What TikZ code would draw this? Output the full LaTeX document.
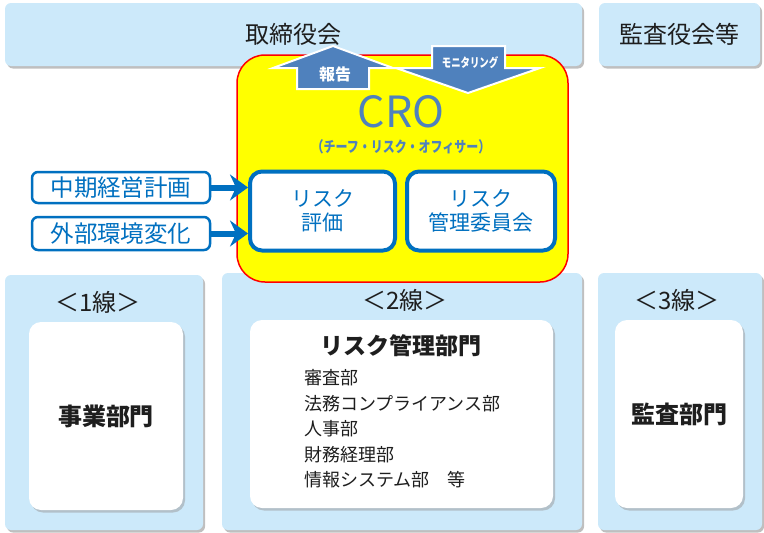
\documentclass[tikz,border=0pt]{standalone}
\usepackage{fontspec}
\setmainfont{Noto Sans CJK JP}
\usetikzlibrary{arrows.meta,shadows}
\definecolor{paneblue}{RGB}{204,233,250}
\definecolor{riskblue}{RGB}{0,112,192}
\definecolor{steelblue}{RGB}{79,129,189}
\definecolor{textgray}{RGB}{30,30,30}
\definecolor{croyellow}{RGB}{255,255,0}
\definecolor{crored}{RGB}{255,0,0}
\begin{document}
\begin{tikzpicture}[x=1pt, y=-1pt,
    every node/.style={text=textgray, inner sep=0pt},
    pane/.style={fill=paneblue, rounded corners=6pt, drop shadow={shadow xshift=2pt, shadow yshift=-2.5pt, fill=black!50}},
    card/.style={fill=white, rounded corners=12pt, drop shadow={shadow xshift=2pt, shadow yshift=-2.5pt, fill=black!40}},
    riskbox/.style={draw=riskblue, line width=4pt, fill=white, rounded corners=12pt, text=riskblue, align=center, font=\fontsize{21}{24}\selectfont},
    inputbox/.style={draw=riskblue, line width=2.5pt, fill=white, rounded corners=6pt, text=riskblue, font=\fontsize{23.5}{26}\selectfont},
    feed/.style={draw=riskblue, line width=6pt, -{Stealth[length=18pt, width=26pt, inset=6pt]}},
    blockarrow/.style={fill=steelblue, draw=white, line width=2pt},
    big/.style={font=\fontsize{24}{28}\selectfont}]
    \useasboundingbox (0,0) rectangle (764,533);

    % Board on top
    \node[pane, big, minimum width=577pt, minimum height=63pt] (board) at (293.5,34.5) {取締役会};
    \node[pane, big, minimum width=161pt, minimum height=63pt] (auditboard) at (679.5,34.5) {監査役会等};

    % Three lines of defence
    \node[pane, minimum width=198pt, minimum height=255pt] (line1) at (104,402.5) {};
    \node[pane, minimum width=360pt, minimum height=257pt] (line2) at (402,401.5) {};
    \node[pane, minimum width=164pt, minimum height=257pt] (line3) at (680,401.5) {};

    % CRO area
    \node[draw=crored, line width=1.5pt, fill=croyellow, rounded corners=28pt, minimum width=331pt, minimum height=227pt] (crobox) at (402.5,168.5) {};

    % Report / monitoring arrows
    \draw[blockarrow] (333,46) -- (393,68) -- (369,68) -- (369,89) -- (297,89) -- (297,68) -- (273,68) -- cycle;
    \node[text=white, font=\bfseries\fontsize{16}{18}\selectfont] (report) at (335,74) {報告};
    \draw[blockarrow] (432,46) -- (505,46) -- (505,68) -- (540,68) -- (468,93) -- (396,68) -- (432,68) -- cycle;
    \node[text=white, font=\bfseries\fontsize{12.5}{14}\selectfont] (monitor) at (470,63) {\scalebox{0.75}[1]{モニタリング}};

    \node[text=steelblue, font=\fontsize{43}{46}\selectfont] (cro) at (401,112) {CRO};
    \node[text=steelblue, font=\bfseries\fontsize{15}{17}\selectfont] (crofull) at (401,147) {\scalebox{0.8}[1]{（チーフ・リスク・オフィサー）}};

    \node[riskbox, minimum width=145pt, minimum height=79pt] (evaluation) at (322.5,211) {リスク\\評価};
    \node[riskbox, minimum width=148pt, minimum height=79pt] (committee) at (481,211) {リスク\\管理委員会};

    % Inputs
    \node[inputbox, minimum width=178pt, minimum height=31pt] (midplan) at (121,187.5) {中期経営計画};
    \node[inputbox, minimum width=178pt, minimum height=33pt] (environment) at (121,233.5) {外部環境変化};
    \draw[feed] (midplan.east) -- (evaluation.west |- midplan.east);
    \draw[feed] (environment.east) -- (evaluation.west |- environment.east);

    % Line labels and departments
    \node[big] (label1) at (98,302) {＜1線＞};
    \node[big] (label2) at (405,300) {＜2線＞};
    \node[big] (label3) at (677,300) {＜3線＞};

    \node[card, minimum width=154pt, minimum height=188pt] (business) at (106,416) {};
    \node[card, minimum width=303pt, minimum height=188pt] (riskdept) at (401.5,414) {};
    \node[card, minimum width=128pt, minimum height=188pt] (auditdept) at (679,414) {};

    \node[font=\bfseries\fontsize{24}{28}\selectfont] at (business) {事業部門};
    \node[font=\bfseries\fontsize{24}{28}\selectfont] at (auditdept) {監査部門};
    \node[font=\bfseries\fontsize{23}{26}\selectfont] (riskhead) at (401,346) {リスク管理部門};
    \node[anchor=west, align=left, font=\fontsize{18}{25.5}\selectfont] (deptlist) at (304,429) {審査部\\法務コンプライアンス部\\人事部\\財務経理部\\情報システム部　等};
\end{tikzpicture}
\end{document}
